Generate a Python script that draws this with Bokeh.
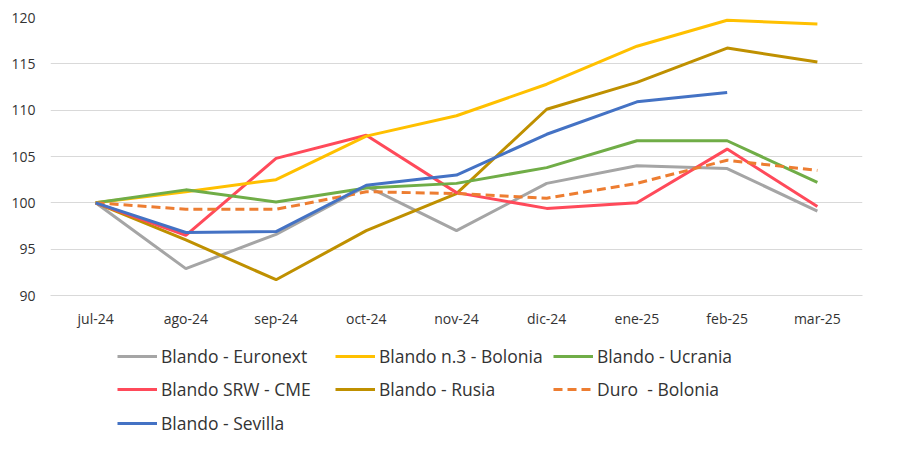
from bokeh.plotting import figure
from bokeh.layouts import column
from bokeh.models import Legend, LegendItem, FactorRange, Range1d
from bokeh.embed import file_html
from bokeh.resources import INLINE

months = ["jul-24", "ago-24", "sep-24", "oct-24", "nov-24", "dic-24", "ene-25", "feb-25", "mar-25"]
euronext = [100, 92.9, 96.6, 101.8, 97.0, 102.1, 104.0, 103.7, 99.1]
bolonia_n3 = [100, 101.2, 102.5, 107.2, 109.4, 112.8, 116.9, 119.7, 119.3]
ucrania = [100, 101.4, 100.1, 101.6, 102.1, 103.8, 106.7, 106.7, 102.2]
srw_cme = [100, 96.5, 104.8, 107.3, 101.1, 99.4, 100.0, 105.8, 99.6]
rusia = [100, 96.0, 91.7, 97.0, 101.0, 110.1, 113.0, 116.7, 115.2]
duro_bolonia = [100, 99.3, 99.3, 101.2, 101.0, 100.5, 102.1, 104.6, 103.5]
sevilla_months = months[:8]
sevilla = [100, 96.8, 96.9, 101.9, 103.0, 107.4, 110.9, 111.9]
y_ticks = [90, 95, 100, 105, 110, 115, 120]

FONT = "Open Sans"
TXT = "#333333"

fig = figure(width=899, height=335, x_range=FactorRange(*months), y_range=Range1d(90, 120),
             output_backend="svg", toolbar_location=None,
             min_border_left=50, min_border_right=37, min_border_top=17, min_border_bottom=40)
fig.outline_line_color = None
fig.xgrid.grid_line_color = None
fig.ygrid.grid_line_color = "#D9D9D9"
fig.ygrid.grid_line_width = 1
fig.yaxis.ticker = y_ticks
fig.yaxis.axis_line_color = None
fig.yaxis.major_tick_line_color = None
fig.yaxis.minor_tick_line_color = None
fig.yaxis.major_tick_out = 0
fig.yaxis.major_label_text_font = FONT
fig.yaxis.major_label_text_font_size = "14px"
fig.yaxis.major_label_text_color = TXT
fig.yaxis.major_label_standoff = 15
fig.xaxis.axis_line_color = "#D9D9D9"
fig.xaxis.major_tick_line_color = None
fig.xaxis.minor_tick_line_color = None
fig.xaxis.major_tick_out = 0
fig.xaxis.major_tick_in = 0
fig.xaxis.major_label_text_font = FONT
fig.xaxis.major_label_text_font_size = "14px"
fig.xaxis.major_label_text_color = TXT
fig.xaxis.major_label_standoff = 13

series = [
    ("Blando - Euronext", months, euronext, "#A5A5A5", "solid"),
    ("Blando n.3 - Bolonia", months, bolonia_n3, "#FFC000", "solid"),
    ("Blando - Ucrania", months, ucrania, "#70AD47", "solid"),
    ("Blando SRW - CME", months, srw_cme, "#FF4A5A", "solid"),
    ("Blando - Rusia", months, rusia, "#BF9000", "solid"),
    ("Duro  - Bolonia", months, duro_bolonia, "#ED7D31", "9 5"),
    ("Blando - Sevilla", sevilla_months, sevilla, "#4472C4", "solid"),
]

draw_order = [0, 4, 3, 1, 2, 5, 6]
for i in draw_order:
    name, xs, ys, col, dash = series[i]
    fig.line(xs, ys, line_color=col, line_width=3, line_dash=dash)

# legend strip: same series, drawn outside its visible range so only the legend keys show
leg = figure(width=899, height=101, output_backend="svg", toolbar_location=None,
             x_range=FactorRange(*months), y_range=Range1d(0, 1),
             x_axis_location=None, y_axis_location=None,
             min_border_left=50, min_border_right=37, min_border_top=0, min_border_bottom=0)
leg.outline_line_color = None
leg.grid.visible = False
keys = {}
for i, (name, xs, ys, col, dash) in enumerate(series):
    keys[i] = leg.line(xs, ys, line_color=col, line_width=3, line_dash=dash)

rows = [([0, 1, 2], 68), ([3, 4, 5], 35), ([6], 1)]
for row, ypos in rows:
    items = [LegendItem(label=series[i][0], renderers=[keys[i]]) for i in row]
    lg = Legend(items=items, orientation="horizontal", location=(67, ypos),
                border_line_color=None, background_fill_alpha=0,
                label_text_font=FONT, label_text_font_size="17.5px", label_text_color=TXT,
                glyph_width=40, glyph_height=22, label_height=22, label_width=174,
                spacing=0, label_standoff=4, padding=0, margin=0)
    leg.add_layout(lg, "center")

p = column(fig, leg, spacing=0)
open("out.html", "w").write(file_html(p, INLINE))
